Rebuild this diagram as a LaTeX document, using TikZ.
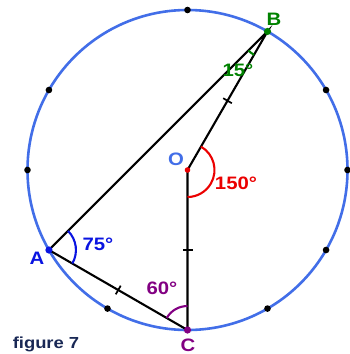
\documentclass[tikz,border=0pt]{standalone}
\usepackage{fontspec}
\setmainfont{Liberation Sans}
\usetikzlibrary{calc}
\definecolor{circblue}{RGB}{66,110,232}
\definecolor{lblblue}{RGB}{10,20,225}
\definecolor{ogreen}{RGB}{0,130,0}
\definecolor{opurple}{RGB}{130,0,130}
\definecolor{ored}{RGB}{235,0,0}
\definecolor{navy}{RGB}{25,40,85}
\newcommand{\wide}[1]{\scalebox{1.13}[1]{#1}}
\begin{document}
\begin{tikzpicture}[x=1pt,y=-1pt,
  seg/.style={line width=2.1pt,black},
  tickmark/.style={line width=1.7pt,black},
  lbl/.style={font=\bfseries\fontsize{18}{18}\selectfont,inner sep=0pt},
  anglearc/.style={line width=2.1pt}]
\useasboundingbox (0,0) rectangle (350,354);
\coordinate (O) at (187.5,170);
\coordinate (B) at ($(O)+(-60:160)$);
\coordinate (A) at ($(O)+(150:160)$);
\coordinate (C) at ($(O)+(90:160)$);
\draw[circblue,line width=2.6pt] (O) circle (160);
\foreach \a in {-90,-30,0,30,60,120,180,-150} \fill ($(O)+(\a:160)$) circle (3.3);
\draw[seg] (A) -- (B) -- (O) -- (C) -- (A);
% ticks
\coordinate (M1) at ($(B)!0.5!(O)$);
\coordinate (M2) at ($(O)!0.5!(C)$);
\coordinate (M3) at ($(A)!0.5!(C)$);
\draw[tickmark] ($(M1)!5pt!90:(O)$) -- ($(M1)!5pt!-90:(O)$);
\draw[tickmark] ($(M2)!5pt!90:(C)$) -- ($(M2)!5pt!-90:(C)$);
\draw[tickmark] ($(M3)!5pt!90:(C)$) -- ($(M3)!5pt!-90:(C)$);
% angle arcs
\draw[anglearc,ored] ($(O)+(-60:27)$) arc[start angle=-60,end angle=90,radius=27];
\draw[anglearc,lblblue] ($(A)+(-45:27)$) arc[start angle=-45,end angle=30,radius=27];
\draw[anglearc,opurple] ($(C)+(-150:24)$) arc[start angle=-150,end angle=-90,radius=24];
\draw[anglearc,ogreen] ($(B)+(120:27)$) arc[start angle=120,end angle=135,radius=27];
% points
\fill[ored] (O) circle (2.8);
\fill[lblblue] (A) circle (3.6);
\fill[ogreen] (B) circle (3.6);
\fill[opurple] (C) circle (3.6);
% labels
\node[lbl,ogreen] (lB) at (274,19) {\wide{B}};
\node[lbl,ogreen] (l15) at (238,70) {\wide{15°}};
\node[lbl,circblue] (lO) at (176,159) {\wide{O}};
\node[lbl,ored] (l150) at (236,183) {\wide{150°}};
\node[lbl,lblblue] (lA) at (37,258) {\wide{A}};
\node[lbl,lblblue] (l75) at (98,244) {\wide{75°}};
\node[lbl,opurple] (l60) at (162,288) {\wide{60°}};
\node[lbl,opurple] (lC) at (188,345) {\wide{C}};
\node[inner sep=0pt,navy,font=\bfseries\fontsize{16}{16}\selectfont] (fig) at (46,344) {\scalebox{1.15}[1]{figure 7}};
\end{tikzpicture}
\end{document}
